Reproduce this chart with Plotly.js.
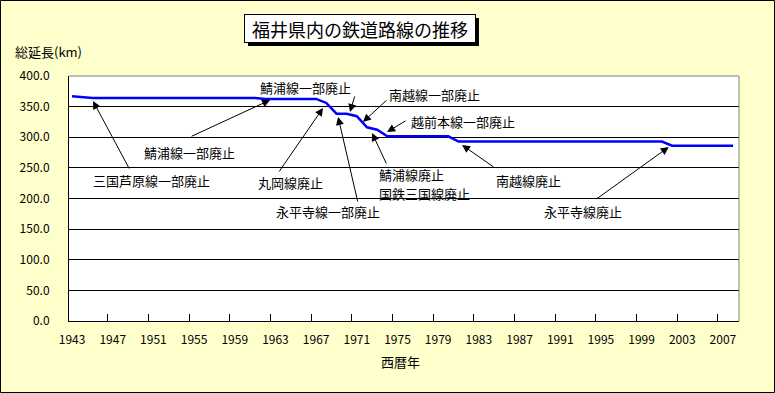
<!DOCTYPE html>
<html>
<head>
<meta charset="utf-8">
<script src="https://cdn.plot.ly/plotly-3.0.1.min.js"></script>
<style>
html,body{margin:0;padding:0;background:#FFFFCC;}
#chart{width:775px;height:393px;}
</style>
</head>
<body>
<div id="chart"></div>
<script>
// ---- data ----
const years = [1943,1944,1945,1946,1947,1948,1949,1950,1951,1952,1953,1954,1955,1956,1957,1958,1959,1960,1961,1962,1963,1964,1965,1966,1967,1968,1969,1970,1971,1972,1973,1974,1975,1976,1977,1978,1979,1980,1981,1982,1983,1984,1985,1986,1987,1988,1989,1990,1991,1992,1993,1994,1995,1996,1997,1998,1999,2000,2001,2002,2003,2004,2005,2006,2007,2008];
const totalKm = [366.8,365.5,364.0,364.0,364.0,364.0,364.0,364.0,364.0,364.0,364.0,364.0,364.0,364.0,364.0,364.0,364.0,364.0,364.0,362.6,362.6,362.6,362.6,362.6,362.6,356.0,338.5,338.5,334.3,316.3,312.4,301.6,301.6,301.6,301.6,301.6,301.6,301.6,293.0,293.0,293.0,293.0,293.0,293.0,293.0,293.0,293.0,293.0,293.0,293.0,293.0,293.0,293.0,293.0,293.0,293.0,293.0,293.0,293.0,286.3,286.3,286.3,286.3,286.3,286.3,286.3];
const tickYears = [1943,1947,1951,1955,1959,1963,1967,1971,1975,1979,1983,1987,1991,1995,1999,2003,2007];
const yTicks = [0,50,100,150,200,250,300,350,400];

const chartTitle = '福井県内の鉄道路線の推移';
const yTitle = '総延長(km)';
const xTitle = '西暦年';

// event labels: text and its left-edge position (year, km)
const labelText = ['三国芦原線一部廃止','鯖浦線一部廃止','鯖浦線一部廃止','南越線一部廃止','越前本線一部廃止','丸岡線廃止','永平寺線一部廃止','鯖浦線廃止','国鉄三国線廃止','南越線廃止','永平寺線廃止'];
const labelX = [1945.0,1950.0,1961.4,1974.1,1976.2,1961.2,1963.0,1973.1,1973.1,1984.6,1989.3];
const labelY = [228.6,274.3,382.0,370.6,326.5,226.9,178.0,238.4,208.2,228.6,178.0];
// arrows: tail (year, km) -> head (year, km)
const tailX = [1948.7,1954.6,1970.83,1974.07,1975.94,1963.26,1971.12,1973.97,1984.6,1994.43];
const tailY = [246.5,300.4,369.0,362.5,328.2,241.6,192.7,254.7,249.8,197.6];
const headX = [1945.06,1962.47,1970.33,1971.6,1973.97,1967.68,1969.16,1972.5,1981.35,2001.67];
const headY = [359.2,360.8,341.2,324.9,308.6,347.8,333.1,306.9,287.4,284.1];

const FONT = '"Noto Sans CJK JP", "Noto Sans", sans-serif';
const minorTicks = tickYears.slice(1).map(y => y - 0.5);

const trace = {
  x: years, y: totalKm, type: 'scatter', mode: 'lines',
  line: {color: '#0000FF', width: 2.5},
  hoverinfo: 'x+y'
};

const annotations = [];
for (let i = 0; i < tailX.length; i++) {
  annotations.push({
    x: headX[i], y: headY[i], xref: 'x', yref: 'y',
    ax: tailX[i], ay: tailY[i], axref: 'x', ayref: 'y',
    text: '', showarrow: true, arrowhead: 2, arrowsize: 1.6, arrowwidth: 1, arrowcolor: '#000000'
  });
}
for (let i = 0; i < labelText.length; i++) {
  annotations.push({
    x: labelX[i], y: labelY[i], xref: 'x', yref: 'y',
    xanchor: 'left', yanchor: 'middle', borderpad: 0,
    text: labelText[i], showarrow: false, align: 'left',
    font: {family: FONT, size: 13, color: '#000000'}
  });
}
annotations.push({
  x: 0.435, y: 1.192, xref: 'paper', yref: 'paper', xanchor: 'center', yanchor: 'middle',
  text: chartTitle, showarrow: false,
  font: {family: FONT, size: 18, color: '#000000'},
  bgcolor: '#FFFFFF', bordercolor: '#000000', borderwidth: 1, borderpad: 1,
  width: 228, height: 25
});
annotations.push({
  x: -0.0299, y: 1.098, xref: 'paper', yref: 'paper', xanchor: 'center', yanchor: 'middle',
  text: yTitle, showarrow: false,
  font: {family: FONT, size: 13, color: '#000000'}
});
annotations.push({
  x: 0.4955, y: -0.167, xref: 'paper', yref: 'paper', xanchor: 'center', yanchor: 'middle',
  text: xTitle, showarrow: false,
  font: {family: FONT, size: 13, color: '#000000'}
});

const layout = {
  width: 775, height: 393,
  margin: {l: 69, r: 36, t: 76, b: 72, pad: 0},
  paper_bgcolor: '#FFFFCC', plot_bgcolor: '#FFFFFF',
  showlegend: false,
  font: {family: FONT, size: 12, color: '#000000'},
  xaxis: {
    range: [1942.7, 2008.58], tickmode: 'array', tickvals: tickYears,
    ticktext: tickYears.map(String), ticks: '', showgrid: false, zeroline: false,
    showline: true, linecolor: '#000000', linewidth: 1, ticklabelstandoff: 8,
    tickfont: {family: FONT, size: 12},
    minor: {tickmode: 'array', tickvals: minorTicks, ticks: 'inside', ticklen: 7, tickcolor: '#000000', tickwidth: 1, showgrid: false}
  },
  yaxis: {
    range: [0, 400], tickmode: 'array', tickvals: yTicks, tickformat: '.1f',
    ticks: '', showgrid: true, gridcolor: '#000000', gridwidth: 1, zeroline: false,
    showline: true, linecolor: '#000000', linewidth: 1, ticklabelstandoff: 16,
    tickfont: {family: FONT, size: 12}
  },
  shapes: [
    {type: 'line', xref: 'paper', yref: 'paper', x0: 0, x1: 1, y0: 1, y1: 1, line: {color: '#808080', width: 1}, layer: 'above'},
    {type: 'line', xref: 'paper', yref: 'paper', x0: 1, x1: 1, y0: 0, y1: 1, line: {color: '#808080', width: 1}, layer: 'above'},
    {type: 'rect', xref: 'paper', yref: 'paper', x0: 0.2672, x1: 0.6119, y0: 1.1224, y1: 1.2367, fillcolor: '#000000', line: {width: 0}, layer: 'above'},
    {type: 'rect', xref: 'paper', yref: 'paper', x0: -0.10224, x1: 1.05299, y0: -0.29184, y1: 1.30816, fillcolor: 'rgba(0,0,0,0)', line: {color: '#000000', width: 1}, layer: 'above'}
  ],
  annotations: annotations
};

Plotly.newPlot('chart', [trace], layout, {displayModeBar: false, staticPlot: true});
</script>
</body>
</html>
